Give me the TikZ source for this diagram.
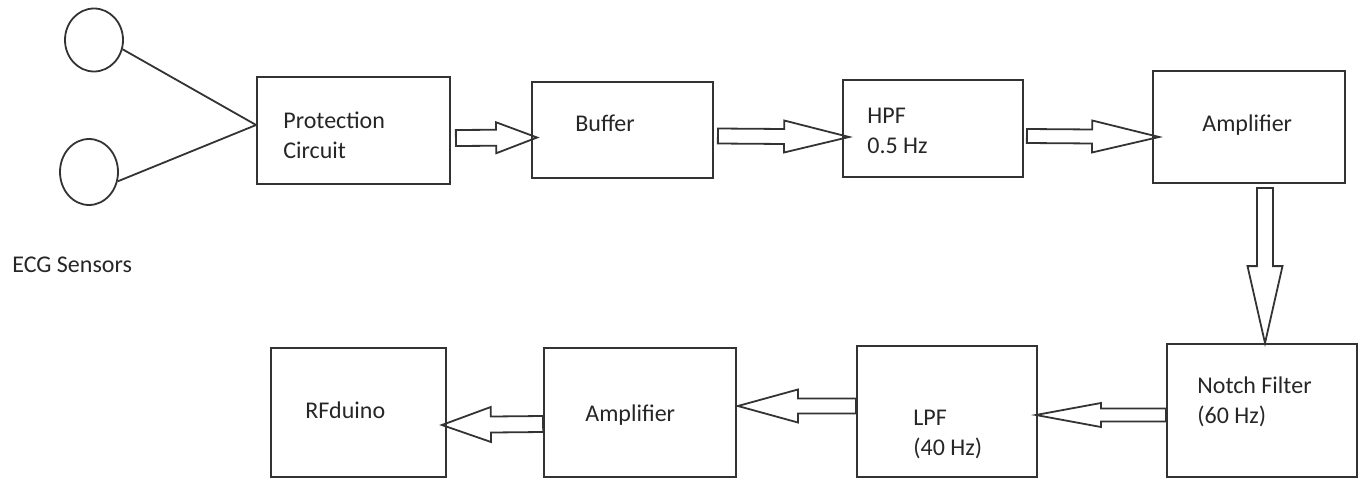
\documentclass[tikz,border=0pt]{standalone}
\usepackage{fontspec}
\setmainfont{Carlito}
\usetikzlibrary{calc,shapes.geometric}
\tikzset{
  blk/.style={draw=black!80, line width=0.9pt, inner sep=0pt},
  txt/.style={anchor=west, inner sep=0pt, align=left, text=black!85,
              font=\fontsize{12}{15}\selectfont},
  fat/.style={draw=black!80, line width=0.9pt, line join=miter},
  wire/.style={draw=black!80, line width=0.9pt},
  sensor/.style={draw=black!80, line width=0.9pt, ellipse, inner sep=0pt,
                 minimum width=29pt}
}
% hollow block arrow: tail, tip, shaft half width, head half width, head length
\newcommand\fatarrow[5]{%
  \coordinate (fa-a) at (#1);
  \coordinate (fa-b) at (#2);
  \coordinate (fa-c) at ($(fa-b)!#5!(fa-a)$);
  \draw[fat] ($(fa-a)!#3!90:(fa-b)$) -- ($(fa-c)!#3!-90:(fa-a)$)
    -- ($(fa-c)!#4!-90:(fa-a)$) -- (fa-b)
    -- ($(fa-c)!#4!90:(fa-a)$) -- ($(fa-c)!#3!90:(fa-a)$)
    -- ($(fa-a)!#3!-90:(fa-b)$) -- cycle;}
\begin{document}
\begin{tikzpicture}[x=0.5pt,y=-0.5pt]
\useasboundingbox (0,0) rectangle (1360,481);
% sensors
\node[sensor, minimum height=31.5pt] (s1) at (94,40) {};
\node[sensor, minimum height=33pt] (s2) at (89,172) {};
\node[txt] (ecg) at (12,265) {ECG Sensors};
% top row
\node[blk, minimum width=96.5pt, minimum height=53.5pt] (prot) at (353.5,130.5) {};
\node[blk, minimum width=90.5pt, minimum height=48pt] (buf) at (622.5,130) {};
\node[blk, minimum width=90pt, minimum height=48.5pt] (hpf) at (933,128.5) {};
\node[blk, minimum width=96pt, minimum height=56pt] (amp1) at (1249,127) {};
% bottom row
\node[blk, minimum width=95pt, minimum height=66.5pt] (notch) at (1262,410.5) {};
\node[blk, minimum width=90pt, minimum height=65.5pt] (lpf) at (947,411.5) {};
\node[blk, minimum width=96pt, minimum height=64.5pt] (amp2) at (640,412.5) {};
\node[blk, minimum width=87.5pt, minimum height=64.5pt] (rf) at (358.5,412.5) {};
% texts
\node[txt] (prot-t) at (283,135.5) {Protection\\Circuit};
\node[txt] (buf-t) at (575,123) {Buffer};
\node[txt] (hpf-t) at (867,130.5) {HPF\\0.5 Hz};
\node[txt] (amp1-t) at (1202,125) {Amplifier};
\node[txt] (notch-t) at (1197,402) {Notch Filter\\(60 Hz)};
\node[txt] (lpf-t) at (913,434) {LPF\\(40 Hz)};
\node[txt] (amp2-t) at (585,415) {Amplifier};
\node[txt] (rf-t) at (305,410) {RFduino};
% wires
\coordinate (pin) at ([yshift=2.75pt]prot.west);
\draw[wire] (s1.-18) -- (pin);
\draw[wire] (s2.-18) -- (pin);
% block arrows
\fatarrow{[xshift=2.5pt,yshift=-3.75pt]prot.east}{[xshift=3pt,yshift=-3.75pt]buf.west}{4pt}{7.75pt}{20.5pt}
\fatarrow{[xshift=2pt,yshift=-3pt]buf.east}{[xshift=3.5pt,yshift=-4.25pt]hpf.west}{3.75pt}{8pt}{32.5pt}
\fatarrow{[xshift=1.5pt,yshift=-3.75pt]hpf.east}{[xshift=3.5pt,yshift=-5pt]amp1.west}{3.5pt}{8pt}{33.5pt}
\fatarrow{[xshift=8pt,yshift=-2pt]amp1.south}{[xshift=1.5pt]notch.north}{4pt}{8.75pt}{38.5pt}
\fatarrow{[yshift=-2.25pt]notch.west}{[xshift=-1pt,yshift=-1.75pt]lpf.east}{3.25pt}{6pt}{32.5pt}
\fatarrow{[yshift=2.75pt]lpf.west}{[xshift=0.5pt,yshift=3.25pt]amp2.east}{3.75pt}{8.25pt}{30pt}
\fatarrow{[yshift=-5.75pt]amp2.west}{[xshift=-2.5pt,yshift=-6.25pt]rf.east}{4pt}{8.75pt}{24.5pt}
\end{tikzpicture}
\end{document}
